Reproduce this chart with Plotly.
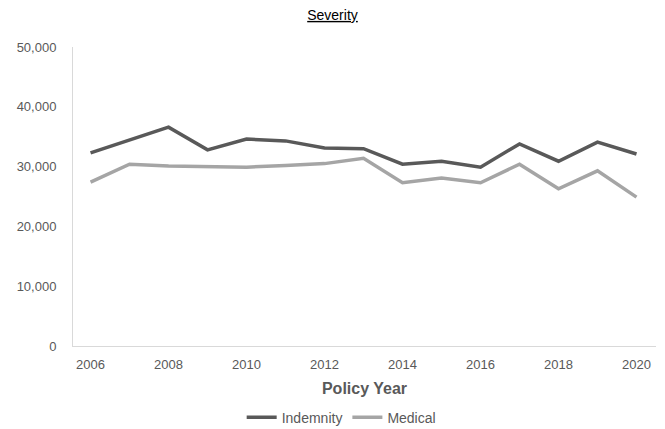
import plotly.graph_objects as go

years = list(range(2006, 2021))
indemnity = [32300, 34400, 36600, 32800, 34600, 34300, 33100, 33000, 30400, 30900, 29900, 33800, 30900, 34100, 32100]
medical = [27400, 30400, 30100, 30000, 29900, 30200, 30500, 31400, 27300, 28100, 27300, 30400, 26300, 29300, 24900]

x_ticks = list(range(2006, 2021, 2))
y_ticks = [0, 10000, 20000, 30000, 40000, 50000]

fig = go.Figure()
fig.add_trace(go.Scatter(x=years, y=indemnity, mode="lines", name="Indemnity",
                         line=dict(color="#595959", width=3.5)))
fig.add_trace(go.Scatter(x=years, y=medical, mode="lines", name="Medical",
                         line=dict(color="#A5A5A5", width=3.5)))

fig.update_layout(
    width=665, height=429,
    margin=dict(l=73, r=9, t=47, b=83, autoexpand=False),
    paper_bgcolor="white", plot_bgcolor="white",
    font=dict(family="Liberation Sans, Arial, sans-serif", color="#595959", size=13),
    title=dict(text="<u>Severity</u>", x=0.5, xanchor="center", y=0.965, yanchor="middle",
               font=dict(size=14, color="#000000")),
    showlegend=True,
    legend=dict(orientation="h", x=0.46, xanchor="center", y=-0.24, yanchor="middle",
                font=dict(size=14, color="#595959"), itemwidth=30, tracegroupgap=0),
)
fig.update_xaxes(
    range=[2005.55, 2020.5], tickvals=x_ticks, ticktext=[str(v) for v in x_ticks],
    showgrid=False, zeroline=False, showline=True, linecolor="#D9D9D9", linewidth=1,
    ticks="", ticklabelstandoff=6, automargin=False,
    title=dict(text="<b>Policy Year</b>", font=dict(size=16, color="#595959"), standoff=12),
)
fig.update_yaxes(
    range=[0, 50000], tickvals=y_ticks, tickformat=",",
    showgrid=False, zeroline=False, showline=True, linecolor="#D9D9D9", linewidth=1,
    ticks="", ticklabelstandoff=13, automargin=False,
)

fig.write_html("out.html")
